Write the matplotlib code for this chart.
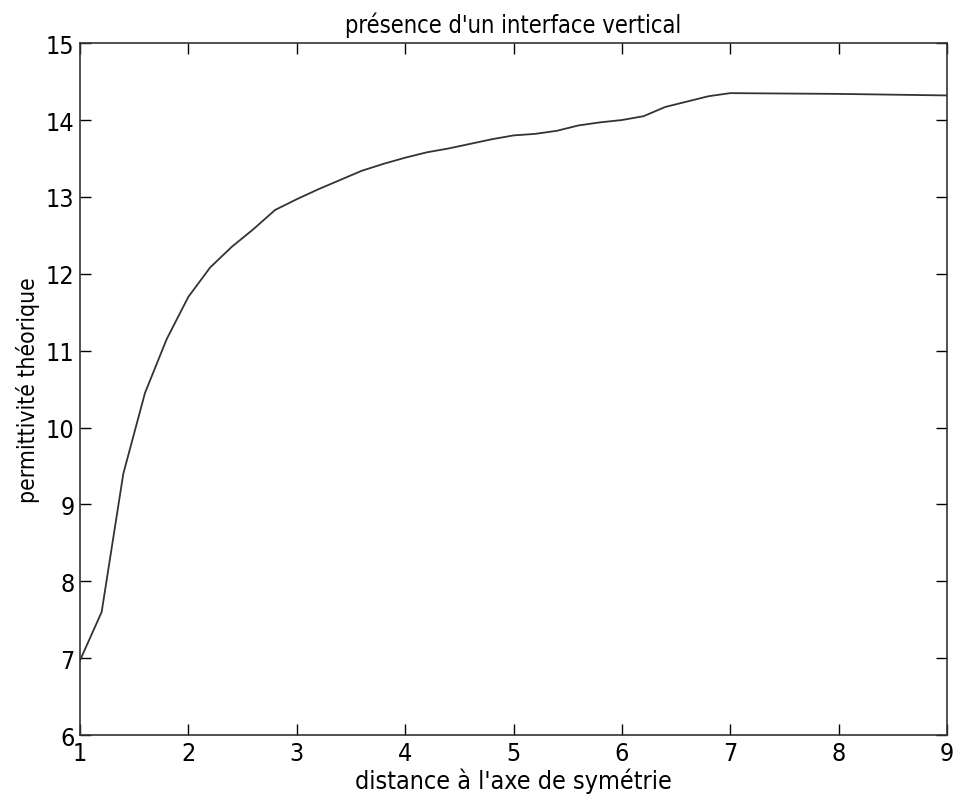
import matplotlib
matplotlib.use('Agg')
import matplotlib.pyplot as plt

# distance à l'axe / permittivité
distance = [1.0, 1.2, 1.4, 1.6, 1.8, 2.0, 2.2, 2.4, 2.6, 2.8, 3.0, 3.2, 3.4, 3.6,
            3.8, 4.0, 4.2, 4.4, 4.6, 4.8, 5.0, 5.2, 5.4, 5.6, 5.8, 6.0, 6.2,
            6.4, 6.6, 6.8, 7.0, 8.0, 9.0]
permittivite = [6.97, 7.6, 9.4, 10.45, 11.15, 11.7, 12.08, 12.35, 12.58, 12.83,
                12.97, 13.1, 13.22, 13.34, 13.43, 13.51, 13.58, 13.63, 13.69,
                13.75, 13.8, 13.82, 13.86, 13.93, 13.97, 14.0, 14.05, 14.17,
                14.24, 14.31, 14.35, 14.34, 14.32]
xticks = [1, 2, 3, 4, 5, 6, 7, 8, 9]
yticks = [6, 7, 8, 9, 10, 11, 12, 13, 14, 15]

# police étroite façon matlab
plt.rcParams['font.family'] = ['DejaVu Sans']
plt.rcParams['font.stretch'] = 'condensed'

fig = plt.figure(figsize=(9.6, 8.03), dpi=100)
ax = fig.add_axes([0.0833, 0.0834, 0.9032, 0.8616])

ax.plot(distance, permittivite, color='#333333', linewidth=1.3)

ax.set_xlim(1, 9)
ax.set_ylim(6, 15)
ax.set_xticks(xticks)
ax.set_yticks(yticks)
ax.tick_params(direction='in', length=8, width=1, top=True, right=True,
               labelsize=18, pad=4)
for s in ax.spines.values():
    s.set_linewidth(1.2)
    s.set_color('#333333')

ax.set_title("présence d'un interface vertical", fontsize=17, pad=8)
ax.set_xlabel("distance à l'axe de symétrie", fontsize=18, labelpad=2)
ax.set_ylabel("permittivité théorique", fontsize=16.5, labelpad=4)

fig.savefig('out.png', dpi=100)
